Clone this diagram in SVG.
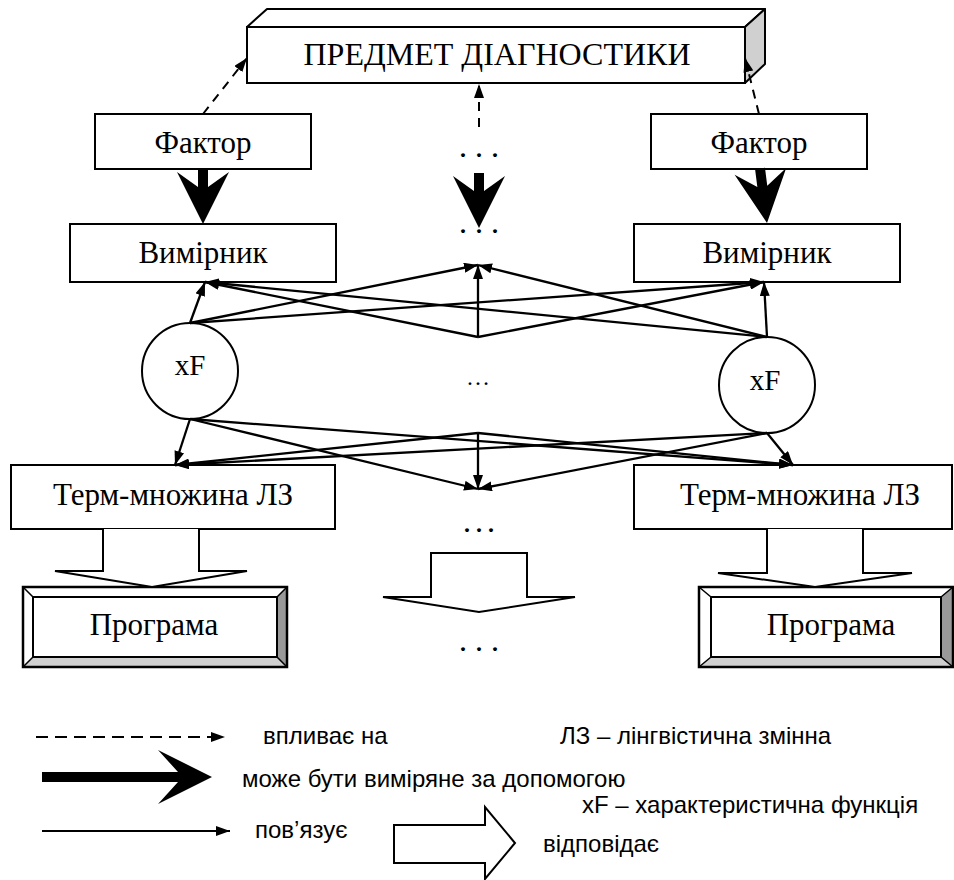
<svg xmlns="http://www.w3.org/2000/svg" width="954" height="880" viewBox="0 0 954 880">
<style>
.box{fill:#fff;stroke:#000;stroke-width:2}
.lbl{font-family:"Liberation Serif","Times New Roman",serif;font-size:31px;fill:#000;text-anchor:middle}
.dots{font-family:"Liberation Serif","Times New Roman",serif;font-size:24px;font-weight:bold;fill:#000}
.leg{font-family:"Liberation Sans",Arial,sans-serif;font-size:24px;fill:#000}
.thin{fill:none;stroke:#000;stroke-width:2.3;marker-end:url(#ah)}
.dash{fill:none;stroke:#000;stroke-width:2;stroke-dasharray:9 7;marker-end:url(#ah)}
.hollow{fill:#fff;stroke:#000;stroke-width:2;stroke-linejoin:miter}
</style>
<defs>
<marker id="ah" viewBox="0 0 14 10" refX="14" refY="5" markerWidth="14" markerHeight="10" markerUnits="userSpaceOnUse" orient="auto">
<path d="M0,0 L14,5 L0,10 Z" fill="#000"/>
</marker>
<path id="thick" d="M-5,-55 H5 V-37 L26,-52 L0,0 L-26,-52 L-5,-37 Z" fill="#000"/>
</defs>

<g id="predmet">
<polygon points="247,27 267,9 765,9 745,27" fill="#fff" stroke="#000" stroke-width="2" stroke-linejoin="round"/>
<polygon points="745,27 765,9 765,64 745,83" fill="#d0d0d0" stroke="#000" stroke-width="2" stroke-linejoin="round"/>
<rect class="box" x="247" y="27" width="498" height="56"/>
<text class="lbl" x="497" y="65" style="font-size:32px">ПРЕДМЕТ ДІАГНОСТИКИ</text>
</g>

<g id="faktor1"><rect class="box" x="95" y="114" width="216" height="55"/><text class="lbl" x="203" y="153">Фактор</text></g>
<g id="faktor2"><rect class="box" x="651" y="114" width="216" height="55"/><text class="lbl" x="759" y="153">Фактор</text></g>
<g id="vymirnyk1"><rect class="box" x="70" y="224" width="266" height="58"/><text class="lbl" x="203" y="263">Вимірник</text></g>
<g id="vymirnyk2"><rect class="box" x="634" y="224" width="266" height="58"/><text class="lbl" x="767" y="263">Вимірник</text></g>

<g id="xf1"><circle cx="190" cy="371" r="48" fill="#fff" stroke="#000" stroke-width="2"/><text class="lbl" x="190" y="375" style="font-size:29px">xF</text></g>
<g id="xf2"><circle cx="767" cy="385" r="48" fill="#fff" stroke="#000" stroke-width="2"/><text class="lbl" x="765" y="390" style="font-size:29px">xF</text></g>

<g id="term1"><rect class="box" x="11" y="465" width="324" height="64"/><text class="lbl" x="173" y="505">Терм-множина ЛЗ</text></g>
<g id="term2"><rect class="box" x="634" y="465" width="318" height="64"/><text class="lbl" x="800" y="505">Терм-множина ЛЗ</text></g>

<g id="programa1">
<rect x="23" y="587" width="264" height="80" fill="#fff" stroke="none"/>
<polygon points="277,597 287,587 287,667 277,657" fill="#999"/>
<polygon points="33,657 277,657 287,667 23,667" fill="#d0d0d0"/>
<rect x="23" y="587" width="264" height="80" fill="none" stroke="#000" stroke-width="2.5"/>
<rect x="33" y="597" width="244" height="60" fill="none" stroke="#000" stroke-width="2"/>
<path d="M23,587 L33,597 M287,587 L277,597 M23,667 L33,657 M287,667 L277,657" stroke="#000" stroke-width="1.5"/>
<text class="lbl" x="154" y="635">Програма</text>
</g>
<g id="programa2">
<rect x="699" y="587" width="254" height="80" fill="#fff" stroke="none"/>
<polygon points="941,597 953,587 953,667 941,657" fill="#999"/>
<polygon points="711,657 941,657 953,667 699,667" fill="#d0d0d0"/>
<rect x="699" y="587" width="254" height="80" fill="none" stroke="#000" stroke-width="2.5"/>
<rect x="711" y="597" width="230" height="60" fill="none" stroke="#000" stroke-width="2"/>
<path d="M699,587 L711,597 M953,587 L941,597 M699,667 L711,657 M953,667 L941,657" stroke="#000" stroke-width="1.5"/>
<text class="lbl" x="831" y="635">Програма</text>
</g>

<g id="ellipses">
<text class="dots" x="460" y="157" style="letter-spacing:10px">...</text>
<text class="dots" x="460" y="233" style="letter-spacing:10px">...</text>
<text class="lbl" x="478" y="385" style="font-size:24px">…</text>
<text class="dots" x="464" y="532" style="letter-spacing:6px">...</text>
<text class="dots" x="460" y="651" style="letter-spacing:10px">...</text>
</g>

<g id="connectors">
<path class="dash" d="M203,114 L247,58"/>
<path class="dash" d="M479,127 L479,84"/>
<path class="dash" d="M759,114 L745,58"/>
<use href="#thick" transform="translate(203,224)"/>
<use href="#thick" transform="translate(479,228)"/>
<use href="#thick" transform="translate(767,223) rotate(-7.3)"/>

<path class="thin" d="M190,323 L205,282"/>
<path class="thin" d="M190,323 L478,265"/>
<path class="thin" d="M190,323 L764,282"/>
<path class="thin" d="M478,337 L205,282"/>
<path class="thin" d="M478,337 L478,265"/>
<path class="thin" d="M478,337 L764,282"/>
<path class="thin" d="M767,337 L205,282"/>
<path class="thin" d="M767,337 L478,265"/>
<path class="thin" d="M767,337 L764,282"/>

<path class="thin" d="M190,419 L175,465"/>
<path class="thin" d="M190,419 L478,489"/>
<path class="thin" d="M190,419 L793,465"/>
<path class="thin" d="M478,433 L175,465"/>
<path class="thin" d="M478,433 L478,489"/>
<path class="thin" d="M478,433 L793,465"/>
<path class="thin" d="M767,433 L175,465"/>
<path class="thin" d="M767,433 L478,489"/>
<path class="thin" d="M767,433 L793,465"/>

<path class="hollow" d="M103,529 V571 H55 L152,587 L247,571 H199 V529"/>
<path class="hollow" d="M767,529 V573 H718 L815,587 L912,573 H863 V529"/>
<path class="hollow" d="M431,553 H527 V597 H575 L479,612 L383,597 H431 Z"/>
</g>

<g id="legend">
<path d="M36,737 L225,737" fill="none" stroke="#000" stroke-width="2" stroke-dasharray="12 7" marker-end="url(#ah)"/>
<text class="leg" x="263" y="744">впливає на</text>
<text class="leg" x="560" y="744">ЛЗ – лінгвістична змінна</text>
<polygon points="42,772 178,772 158,750 212,777 158,804 178,782 42,782" fill="#000"/>
<text class="leg" x="242" y="787">може бути виміряне за допомогою</text>
<text class="leg" x="582" y="813">xF – характеристична функція</text>
<path d="M42,831 L230,831" fill="none" stroke="#000" stroke-width="2" marker-end="url(#ah)"/>
<text class="leg" x="255" y="838">пов’язує</text>
<path class="hollow" d="M394,825 H485 V807 L515,843 L485,879 V863 H394 Z"/>
<text class="leg" x="543" y="852">відповідає</text>
</g>
</svg>
